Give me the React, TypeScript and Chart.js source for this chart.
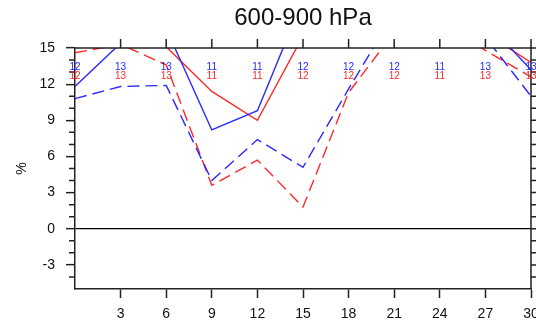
import React, { useEffect, useRef } from 'react';
import { Chart, registerables } from 'chart.js';

Chart.register(...registerables);

// ---- data ----
const xValues = [0, 3, 6, 9, 12, 15, 18, 21, 24, 27, 30];
const blueSolid = [11.8, 15.4, 16.6, 8.2, 9.8, 19.0, 20.0, 20.0, 19.0, 17.2, 13.2];
const redSolid = [17.0, 16.5, 15.1, 11.4, 9.0, 16.0, 18.0, 18.5, 18.0, 16.25, 13.8];
const blueDashed = [10.8, 11.8, 11.9, 4.0, 7.4, 5.1, 11.6, 17.9, 17.5, 15.9, 11.0];
const redDashed = [14.6, 15.3, 13.6, 3.6, 5.7, 1.8, 11.3, 16.3, 17.0, 14.8, 12.6];
const blueLabels = [12, 13, 13, 11, 11, 12, 12, 12, 11, 13, 13];
const redLabels = [12, 13, 13, 11, 11, 12, 12, 12, 11, 13, 13];
const blueLabelLevel = 13.4;
const redLabelLevel = 12.65;
const xTickValues = [3, 6, 9, 12, 15, 18, 21, 24, 27, 30];
const yTickValues = [-3, 0, 3, 6, 9, 12, 15];
const yMinorValues = [-4, -2, -1, 1, 2, 4, 5, 7, 8, 10, 11, 13, 14];
const titleText = '600-900 hPa';
const yAxisTitle = '%';

const FONT = "'Liberation Sans', Arial, Helvetica, sans-serif";
const BLUE = 'rgb(40,40,255)';
const RED = 'rgb(255,40,40)';
const AXIS = '#222';

const decor = {
  id: 'decor',
  afterDraw(chart: any) {
    const { ctx, chartArea } = chart;
    const xs = chart.scales.x;
    const ys = chart.scales.y;
    const { left, right, top, bottom } = chartArea;
    ctx.save();
    ctx.strokeStyle = AXIS;
    ctx.lineWidth = 1.5;
    // top and right frame
    ctx.beginPath();
    ctx.moveTo(left, top);
    ctx.lineTo(right, top);
    ctx.lineTo(right, bottom);
    ctx.stroke();
    // top ticks
    ctx.beginPath();
    for (const v of xTickValues) {
      const px = xs.getPixelForValue(v);
      ctx.moveTo(px, top);
      ctx.lineTo(px, top - 9);
    }
    // right major ticks
    for (const v of yTickValues) {
      const py = ys.getPixelForValue(v);
      ctx.moveTo(right, py);
      ctx.lineTo(right + 9, py);
    }
    // minor ticks left/right
    for (const v of yMinorValues) {
      const py = ys.getPixelForValue(v);
      ctx.moveTo(left, py);
      ctx.lineTo(left - 6, py);
      ctx.moveTo(right, py);
      ctx.lineTo(right + 6, py);
    }
    ctx.stroke();

    // value labels
    ctx.font = `10px ${FONT}`;
    ctx.textAlign = 'center';
    ctx.textBaseline = 'middle';
    xValues.forEach((x, i) => {
      const px = xs.getPixelForValue(x);
      ctx.fillStyle = BLUE;
      ctx.fillText(String(blueLabels[i]), px, ys.getPixelForValue(blueLabelLevel));
      ctx.fillStyle = RED;
      ctx.fillText(String(redLabels[i]), px, ys.getPixelForValue(redLabelLevel));
    });

    // title
    ctx.fillStyle = '#111';
    ctx.font = `24px ${FONT}`;
    ctx.textAlign = 'center';
    ctx.textBaseline = 'alphabetic';
    ctx.fillText(titleText, (left + right) / 2, 25);

    // y axis title
    ctx.font = `14px ${FONT}`;
    ctx.translate(22, (top + bottom) / 2);
    ctx.rotate(-Math.PI / 2);
    ctx.textBaseline = 'middle';
    ctx.fillText(yAxisTitle, 0, 0);
    ctx.restore();
  },
};

export default function App() {
  const ref = useRef<HTMLCanvasElement | null>(null);
  useEffect(() => {
    if (!ref.current) return;
    const mk = (vals: number[], color: string, dashed: boolean) => ({
      data: xValues.map((x, i) => ({ x, y: vals[i] })),
      borderColor: color,
      borderWidth: 1.4,
      borderDash: dashed ? [12, 6] : [],
      pointRadius: 0,
      tension: 0,
      fill: false,
      clip: 0,
    });
    const chart = new Chart(ref.current, {
      type: 'line',
      data: {
        datasets: [
          mk(blueSolid, BLUE, false),
          mk(redSolid, RED, false),
          mk(blueDashed, BLUE, true),
          mk(redDashed, RED, true),
        ] as any,
      },
      options: {
        animation: false,
        responsive: false,
        maintainAspectRatio: false,
        layout: { padding: { top: 48, right: 5, left: 0, bottom: 0 } },
        plugins: { legend: { display: false }, tooltip: { enabled: false }, title: { display: false } },
        scales: {
          x: {
            type: 'linear',
            position: 'bottom',
            min: 0,
            max: 30,
            afterBuildTicks: (s: any) => {
              s.ticks = xTickValues.map((v) => ({ value: v }));
            },
            afterFit: (s: any) => {
              s.height = 36;
              s.paddingLeft = 0;
              s.paddingRight = 0;
            },
            grid: { drawOnChartArea: false, drawTicks: true, tickLength: 9, tickColor: AXIS, tickWidth: 1.5 },
            border: { display: true, color: AXIS, width: 1.5 },
            ticks: {
              color: '#111',
              font: { family: FONT, size: 14 },
              padding: 8,
              maxRotation: 0,
              autoSkip: false,
              callback: (v: any) => String(v),
            },
          },
          y: {
            type: 'linear',
            position: 'left',
            min: -5,
            max: 15,
            afterBuildTicks: (s: any) => {
              s.ticks = yTickValues.map((v) => ({ value: v }));
            },
            afterFit: (s: any) => {
              s.width = 75;
              s.paddingTop = 0;
              s.paddingBottom = 0;
            },
            grid: {
              drawOnChartArea: true,
              color: (c: any) => (c.tick && c.tick.value === 0 ? '#000' : 'rgba(0,0,0,0)'),
              lineWidth: 1.3,
              drawTicks: true,
              tickLength: 9,
              tickColor: AXIS,
              tickWidth: 1.5,
            },
            border: { display: true, color: AXIS, width: 1.5 },
            ticks: {
              color: '#111',
              font: { family: FONT, size: 14 },
              padding: 11,
              autoSkip: false,
              callback: (v: any) => String(v),
            },
          },
        },
      } as any,
      plugins: [decor],
    });
    return () => chart.destroy();
  }, []);
  return (
    <div style={{ position: 'fixed', left: 0, top: 0, width: 536, height: 325, background: '#fff' }}>
      <canvas ref={ref} width={536} height={325} style={{ display: 'block', width: 536, height: 325 }} />
    </div>
  );
}
